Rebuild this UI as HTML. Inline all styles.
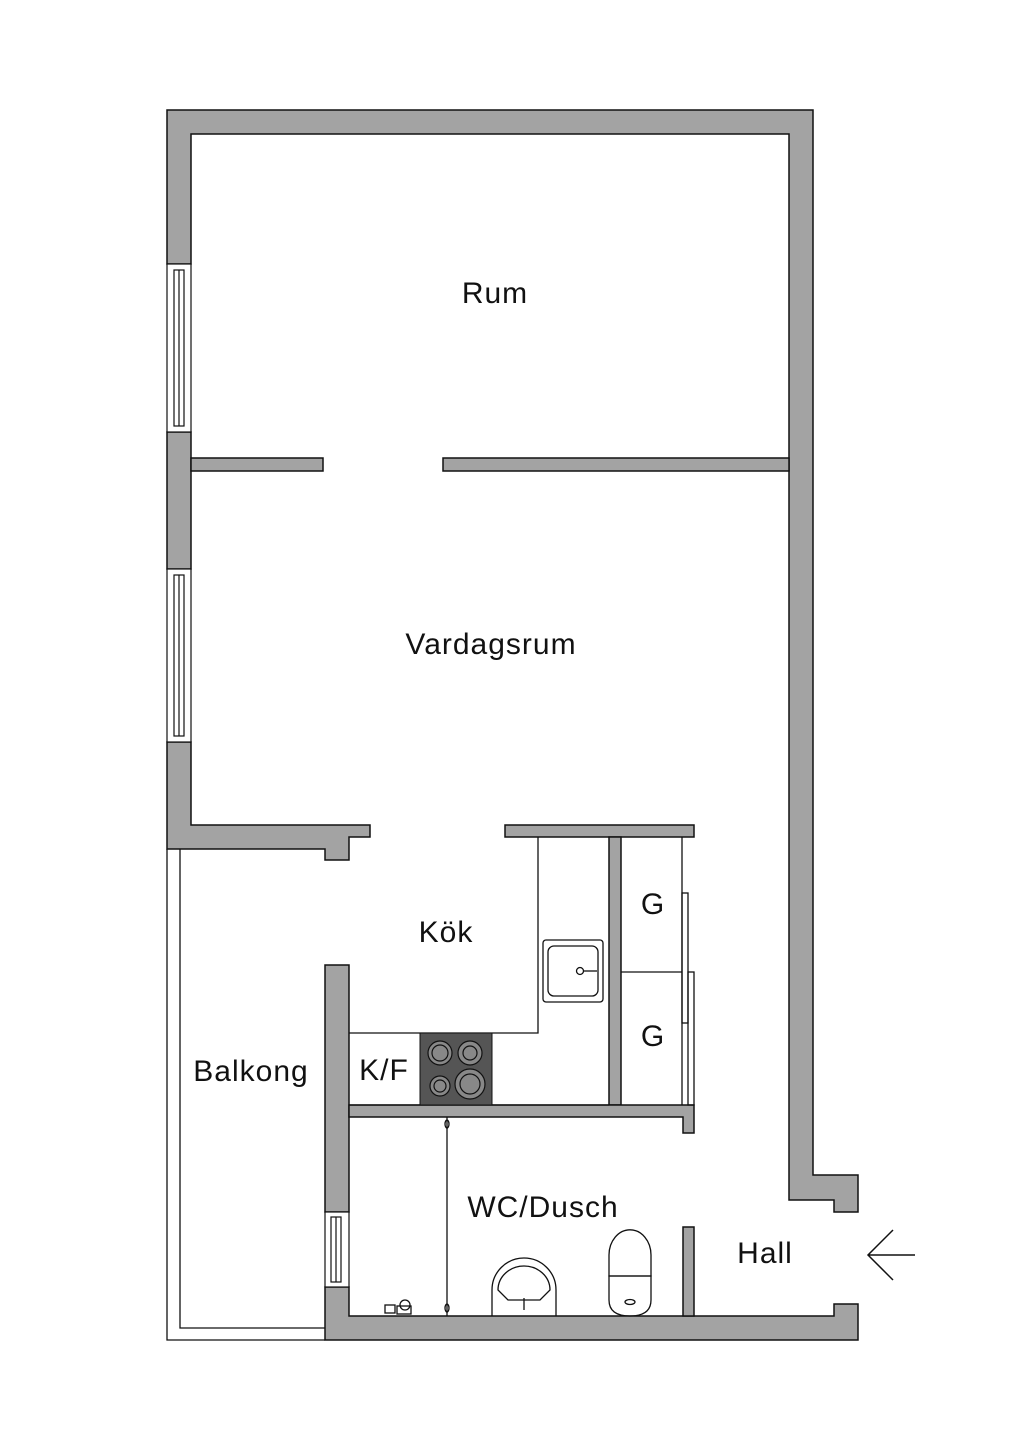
<!DOCTYPE html>
<html><head><meta charset="utf-8"><style>
html,body{margin:0;padding:0;background:#fff;}
svg{display:block}
text{font-family:"Liberation Sans",sans-serif;font-size:30px;letter-spacing:1px;fill:#111;text-anchor:middle;}
</style></head><body>
<svg width="1024" height="1448" viewBox="0 0 1024 1448" xmlns="http://www.w3.org/2000/svg">
<g fill="#a3a3a3" stroke="#111" stroke-width="1.5">
<path d="M167,110 H813 V1175 H858 V1212 H834 V1200 H789 V134 H191 V264 H167 Z"/>
<rect x="167" y="432" width="24" height="137"/>
<path d="M167,742 H191 V825 H370 V837 H349 V860 H325 V849 H167 Z"/>
<rect x="191" y="458" width="132" height="13"/>
<rect x="443" y="458" width="346" height="13"/>
<rect x="505" y="825" width="189" height="12"/>
<rect x="609" y="837" width="12" height="268"/>
<path d="M325,965 H349 V1212 H325 Z"/>
<path d="M325,1287 H349 V1316 H834 V1304 H858 V1340 H325 Z"/>
<path d="M349,1105 H694 V1133 H683 V1117 H349 Z"/>
<rect x="683" y="1227" width="11" height="89"/>
</g>
<g fill="#fff" stroke="#111" stroke-width="1.2">
<rect x="167" y="264" width="24" height="168"/>
<rect x="174" y="270" width="10" height="156"/>
<line x1="179" y1="270" x2="179" y2="426"/>
<rect x="167" y="569" width="24" height="173"/>
<rect x="174" y="575" width="10" height="161"/>
<line x1="179" y1="575" x2="179" y2="736"/>
<rect x="325" y="1212" width="24" height="75"/>
<rect x="331" y="1217" width="10" height="65"/>
<line x1="336" y1="1217" x2="336" y2="1282"/>
</g>
<g fill="none" stroke="#111" stroke-width="1.3">
<path d="M167,849 V1340 H325"/>
<path d="M180,849 V1328 H325"/>
<path d="M538,837 V1033 H349"/>
<line x1="349" y1="1105" x2="609" y2="1105"/>
<path d="M621,972 H682"/>
<line x1="682" y1="837" x2="682" y2="1105"/>
<rect x="682" y="893" width="6" height="130"/>
<rect x="688" y="972" width="6" height="133"/>
<rect x="543" y="940" width="60" height="62" rx="3"/>
<rect x="548" y="946" width="50" height="50" rx="6"/>
<circle cx="580" cy="971" r="3.5"/>
<line x1="583" y1="971" x2="597" y2="971"/>
<line x1="447" y1="1117" x2="447" y2="1316"/>
<ellipse cx="447" cy="1124" rx="2" ry="4"/>
<ellipse cx="447" cy="1308" rx="2" ry="4"/>
<path d="M492,1316 V1290 A31,31 0 0 1 556,1290 V1316"/>
<path d="M498,1290 A26,24 0 0 1 550,1290 L540,1300 H508 Z"/>
<line x1="524" y1="1298" x2="524" y2="1310"/>
<path d="M609,1276 V1255 A20,24 0 0 1 651,1255 V1276 Z"/>
<path d="M609,1276 H651 V1300 Q651,1316 630,1316 Q609,1316 609,1300 Z"/>
<ellipse cx="630" cy="1302" rx="5" ry="2.5"/>
<rect x="385" y="1305" width="10" height="8"/>
<circle cx="405" cy="1305" r="5"/>
<rect x="397" y="1306" width="14" height="8"/>
<path d="M893,1230 L868,1255 L893,1280 M868,1255 H915" stroke-width="1.5"/>
</g>
<rect x="420" y="1033" width="72" height="72" fill="#555" stroke="#111"/>
<g fill="#888" stroke="#111" stroke-width="1.2">
<circle cx="440" cy="1053" r="12"/><circle cx="440" cy="1053" r="8"/>
<circle cx="470" cy="1053" r="12"/><circle cx="470" cy="1053" r="7"/>
<circle cx="440" cy="1086" r="10"/><circle cx="440" cy="1086" r="6"/>
<circle cx="470" cy="1084" r="15"/><circle cx="470" cy="1084" r="10"/>
</g>
<text x="495" y="303">Rum</text>
<text x="491" y="654">Vardagsrum</text>
<text x="446" y="942">Kök</text>
<text x="653" y="914">G</text>
<text x="653" y="1046">G</text>
<text x="384" y="1080">K/F</text>
<text x="251" y="1081">Balkong</text>
<text x="543" y="1217">WC/Dusch</text>
<text x="765" y="1263">Hall</text>
</svg>
</body></html>
